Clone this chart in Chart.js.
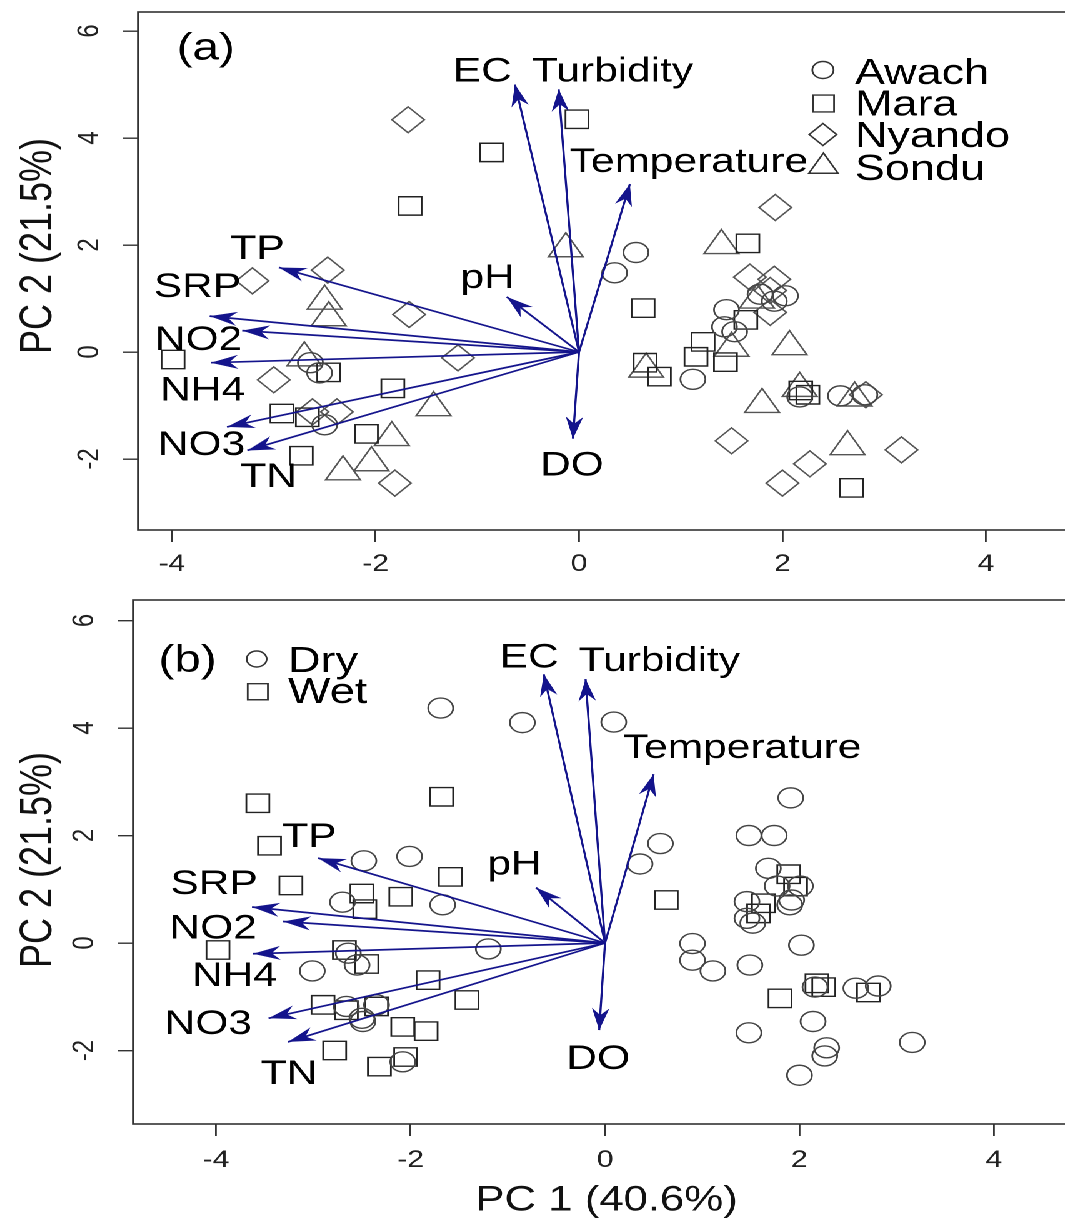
<!DOCTYPE html>
<html lang="en">
<head>
<meta charset="utf-8">
<title>PCA biplot</title>
<script src="https://cdn.jsdelivr.net/npm/chart.js@4.4.1/dist/chart.umd.min.js"></script>
<style>
  html, body { margin: 0; padding: 0; background: #fff; width: 1065px; height: 1220px; overflow: hidden; }
  /* the original figure is stretched sideways, so draw narrow and stretch */
  #esticado { position: absolute; left: 0; top: 0; width: 864px; transform: scaleX(1.25); transform-origin: 0 0; }
  canvas { display: block; }
</style>
</head>
<body>
<div id="esticado">
  <canvas id="graficoA" width="864" height="585"></canvas>
  <canvas id="graficoB" width="864" height="635"></canvas>
</div>
<script>
const fonte = '"Liberation Sans", Arial, sans-serif';
const azul = '#14148c';

// loadings (arrows), same in both panels
const variaveis = ['EC', 'Turbidity', 'Temperature', 'TP', 'pH', 'SRP', 'NO2', 'NH4', 'NO3', 'TN', 'DO'];
const cargaPC1 = [-0.63, -0.20, 0.50, -2.95, -0.71, -3.63, -3.31, -3.62, -3.46, -3.26, -0.06];
const cargaPC2 = [5.00, 4.91, 3.14, 1.58, 1.03, 0.67, 0.40, -0.20, -1.40, -1.84, -1.62];

const ticksX = [-4, -2, 0, 2, 4];
const ticksY = [-2, 0, 2, 4, 6];

// panel (a): scores by site
const awachPC1 = [-2.64, -2.55, -2.50, 0.56, 0.35, 1.45, 1.43, 1.53, 1.12, 2.17, 2.57, 2.81, 1.78, 2.03, 1.92];
const awachPC2 = [-0.20, -0.39, -1.36, 1.86, 1.48, 0.79, 0.47, 0.38, -0.51, -0.84, -0.82, -0.80, 1.08, 1.05, 0.95];
const maraPC1 = [-0.86, -0.02, -1.66, 1.66, 0.63, 1.64, 1.22, 1.15, 1.44, 0.65, 0.79, 2.18, 2.25, 2.68, -3.99, -2.46, -1.83, -2.92, -2.67, -2.09, -2.73];
const maraPC2 = [3.73, 4.35, 2.73, 2.03, 0.82, 0.60, 0.19, -0.09, -0.19, -0.20, -0.46, -0.72, -0.80, -2.54, -0.14, -0.38, -0.68, -1.15, -1.22, -1.53, -1.94];
const nyandoPC1 = [-1.68, -2.47, -3.21, -1.67, -1.19, -3.00, -2.62, -2.38, -1.81, 1.93, 1.68, 1.92, 1.88, 1.88, 2.82, 1.50, 3.17, 2.27, 2.00];
const nyandoPC2 = [4.34, 1.53, 1.33, 0.70, -0.11, -0.52, -1.12, -1.12, -2.45, 2.70, 1.40, 1.36, 1.15, 0.74, -0.80, -1.66, -1.83, -2.09, -2.45];
const sonduPC1 = [-0.13, -2.50, -2.46, -2.70, -1.43, -1.84, -2.04, -2.32, 1.40, 1.50, 2.07, 0.66, 1.80, 2.17, 2.71, 2.64, 1.75];
const sonduPC2 = [1.93, 0.95, 0.64, -0.11, -1.04, -1.60, -2.07, -2.24, 1.99, 0.07, 0.10, -0.32, -0.98, -0.68, -0.86, -1.77, 0.97];

// panel (b): scores by season
const secaPC1 = [-1.69, -0.85, 0.09, -2.48, -2.01, -2.70, -1.67, -2.64, -2.55, -3.01, -1.20, -2.66, -2.35, -2.50, -2.49, -2.08,
  1.91, 1.48, 1.74, 0.57, 0.36, 1.68, 1.77, 2.01, 1.92, 1.46, 1.90, 1.46, 1.52, 0.90, 0.90, 1.11, 1.49, 2.02, 2.16, 2.58, 2.81,
  2.14, 1.48, 3.16, 2.28, 2.26, 2.00];
const secaPC2 = [4.37, 4.10, 4.11, 1.53, 1.61, 0.76, 0.71, -0.19, -0.41, -0.52, -0.11, -1.18, -1.15, -1.40, -1.46, -2.21,
  2.70, 2.00, 2.00, 1.85, 1.47, 1.39, 1.06, 1.06, 0.80, 0.77, 0.71, 0.46, 0.37, -0.01, -0.32, -0.52, -0.41, -0.04, -0.82, -0.84, -0.80,
  -1.46, -1.67, -1.85, -1.95, -2.10, -2.46];
const chuvaPC1 = [-3.57, -1.68, -3.45, -1.59, -3.23, -2.50, -2.10, -2.47, -3.98, -2.68, -2.45, -1.82, -1.42, -2.90, -2.66, -2.35,
  -2.08, -1.84, -2.78, -2.05, -2.32, 0.63, 1.89, 1.96, 1.63, 1.58, 1.80, 2.18, 2.25, 2.71];
const chuvaPC2 = [2.60, 2.72, 1.81, 1.23, 1.07, 0.92, 0.86, 0.63, -0.13, -0.13, -0.39, -0.69, -1.06, -1.15, -1.25, -1.18,
  -1.56, -1.64, -2.00, -2.12, -2.30, 0.80, 1.28, 1.05, 0.74, 0.55, -1.03, -0.75, -0.82, -0.92];

// where the variable names sit (data units), per panel
const rotuloAx = [-0.95, 0.33, 1.08, -3.16, -0.90, -3.75, -3.74, -3.70, -3.71, -3.05, -0.07];
const rotuloAy = [5.23, 5.23, 3.54, 1.91, 1.37, 1.20, 0.21, -0.73, -1.75, -2.35, -2.13];
const rotuloBx = [-0.78, 0.56, 1.41, -3.04, -0.93, -4.02, -4.03, -3.81, -4.08, -3.25, -0.07];
const rotuloBy = [5.30, 5.23, 3.62, 1.96, 1.45, 1.09, 0.26, -0.63, -1.52, -2.45, -2.17];

Chart.defaults.font.family = fonte;

function pontos(xs, ys) {
    return xs.map((x, i) => ({ x: x, y: ys[i] }));
}

function serie(rotulo, xs, ys, estilo, raio, cor) {
    return {
        label: rotulo,
        data: pontos(xs, ys),
        pointStyle: estilo,
        pointRadius: raio,
        pointHoverRadius: raio,
        borderColor: cor,
        backgroundColor: 'rgba(0,0,0,0)',
        borderWidth: 1.4,
        showLine: false
    };
}

function setas() {
    return variaveis.map((v, i) => ({
        label: v,
        data: [{ x: 0, y: 0 }, { x: cargaPC1[i], y: cargaPC2[i] }],
        showLine: true,
        borderColor: azul,
        borderWidth: 1.7,
        pointRadius: 0,
        pointHoverRadius: 0
    }));
}

function marcador(ctx, estilo, raio, x, y, cor) {
    ctx.save();
    ctx.strokeStyle = cor;
    ctx.fillStyle = 'rgba(0,0,0,0)';
    ctx.lineWidth = 1.4;
    Chart.helpers.drawPoint(ctx, { pointStyle: estilo, radius: raio, rotation: 0, borderWidth: 1.4 }, x, y);
    ctx.restore();
}

// no extra room around the plot box: keep the box where the reference has it
function semFolga(s) {
    s.paddingLeft = 0; s.paddingRight = 0; s.paddingTop = 0; s.paddingBottom = 0;
}

const biplot = {
    id: 'biplot',
    afterDatasetsDraw(chart, args, op) {
        const ctx = chart.ctx, sx = chart.scales.x, sy = chart.scales.y;
        const ox = sx.getPixelForValue(0), oy = sy.getPixelForValue(0);
        ctx.save();
        // arrow heads
        ctx.fillStyle = azul;
        variaveis.forEach((v, i) => {
            const tx = sx.getPixelForValue(cargaPC1[i]), ty = sy.getPixelForValue(cargaPC2[i]);
            const len = Math.hypot(tx - ox, ty - oy);
            const ux = (tx - ox) / len, uy = (ty - oy) / len;
            const L = 22, W = 7, N = 15;
            ctx.beginPath();
            ctx.moveTo(tx, ty);
            ctx.lineTo(tx - ux * L - uy * W, ty - uy * L + ux * W);
            ctx.lineTo(tx - ux * N, ty - uy * N);
            ctx.lineTo(tx - ux * L + uy * W, ty - uy * L - ux * W);
            ctx.closePath();
            ctx.fill();
        });
        // variable names
        ctx.fillStyle = '#000';
        ctx.font = '34px ' + fonte;
        ctx.textAlign = 'center';
        ctx.textBaseline = 'middle';
        variaveis.forEach((v, i) => {
            ctx.fillText(v, sx.getPixelForValue(op.rotX[i]), sy.getPixelForValue(op.rotY[i]));
        });
        ctx.restore();
    },
    afterDraw(chart, args, op) {
        const ctx = chart.ctx, a = chart.chartArea, sy = chart.scales.y;
        ctx.save();
        // plot box
        ctx.strokeStyle = '#333';
        ctx.lineWidth = 1.6;
        ctx.strokeRect(a.left, a.top, a.right - a.left, a.bottom - a.top);
        // rotated y tick labels
        ctx.fillStyle = '#222';
        ctx.font = '24px ' + fonte;
        ctx.textAlign = 'center';
        ctx.textBaseline = 'middle';
        ticksY.forEach(v => {
            ctx.save();
            ctx.translate(a.left - 38.5, sy.getPixelForValue(v));
            ctx.rotate(-Math.PI / 2);
            ctx.fillText(String(v), 0, 0);
            ctx.restore();
        });
        // y title
        ctx.fillStyle = '#111';
        ctx.font = '36px ' + fonte;
        ctx.save();
        ctx.translate(31, op.tituloY);
        ctx.rotate(-Math.PI / 2);
        ctx.fillText('PC 2 (21.5%)', 0, 0);
        ctx.restore();
        // x title (bottom panel only)
        if (op.tituloX) {
            ctx.font = '35px ' + fonte;
            ctx.fillText(op.tituloX, (a.left + a.right) / 2, op.tituloXy);
        }
        // panel tag
        ctx.fillStyle = '#000';
        ctx.font = '38px ' + fonte;
        ctx.fillText(op.painel.texto, op.painel.x, op.painel.y);
        // legend
        ctx.textAlign = 'left';
        ctx.font = op.legendaFonte + 'px ' + fonte;
        op.legenda.forEach(item => {
            marcador(ctx, item.estilo, item.raio, item.mx, item.my, '#333');
            ctx.fillStyle = '#000';
            ctx.fillText(item.texto, item.tx, item.ty);
        });
        ctx.restore();
    }
};

function opcoes(lim, extras) {
    return {
        responsive: false,
        animation: false,
        devicePixelRatio: 2,
        events: [],
        layout: { autoPadding: false, padding: { top: lim.topo, left: 0, right: 0, bottom: 0 } },
        plugins: {
            legend: { display: false },
            tooltip: { enabled: false },
            biplot: extras
        },
        scales: {
            x: {
                type: 'linear',
                min: lim.xmin,
                max: lim.xmax,
                afterBuildTicks: s => { s.ticks = ticksX.map(v => ({ value: v })); },
                afterFit: s => { s.height = lim.alturaX; semFolga(s); },
                border: { display: false },
                grid: { drawOnChartArea: false, drawTicks: true, tickLength: 12, color: '#333', lineWidth: 1.4 },
                ticks: { color: '#222', font: { size: 24 }, padding: lim.padX, maxRotation: 0, callback: v => String(v) }
            },
            y: {
                type: 'linear',
                min: lim.ymin,
                max: lim.ymax,
                afterBuildTicks: s => { s.ticks = ticksY.map(v => ({ value: v })); },
                afterFit: s => { s.width = lim.larguraY; semFolga(s); },
                border: { display: false },
                grid: { drawOnChartArea: false, drawTicks: true, tickLength: 12, color: '#333', lineWidth: 1.4 },
                ticks: { display: false }
            }
        }
    };
}

const graficoA = new Chart(document.getElementById('graficoA'), {
    type: 'scatter',
    data: {
        datasets: setas().concat([
            serie('Awach', awachPC1, awachPC2, 'circle', 10, '#444'),
            serie('Mara', maraPC1, maraPC2, 'rect', 13, '#222'),
            serie('Nyando', nyandoPC1, nyandoPC2, 'rectRot', 13, '#555'),
            serie('Sondu', sonduPC1, sonduPC2, 'triangle', 16, '#555')
        ])
    },
    options: opcoes(
        { xmin: -4.334, xmax: 4.924, ymin: -3.327, ymax: 6.355, topo: 12, alturaX: 55, larguraY: 110.4, padX: 8 },
        {
            rotX: rotuloAx, rotY: rotuloAy,
            tituloY: 246,
            painel: { texto: '(a)', x: 164.6, y: 49 },
            legendaFonte: 36,
            legenda: [
                { texto: 'Awach', estilo: 'circle', raio: 8.5, mx: 658.4, my: 70, tx: 684, ty: 74 },
                { texto: 'Mara', estilo: 'rect', raio: 12, mx: 658.8, my: 103.5, tx: 684, ty: 105.5 },
                { texto: 'Nyando', estilo: 'rectRot', raio: 11, mx: 658.4, my: 134.5, tx: 684, ty: 137 },
                { texto: 'Sondu', estilo: 'triangle', raio: 13.5, mx: 658.8, my: 166.5, tx: 684, ty: 170 }
            ]
        }
    ),
    plugins: [biplot]
});

const graficoB = new Chart(document.getElementById('graficoB'), {
    type: 'scatter',
    data: {
        datasets: setas().concat([
            serie('Dry', secaPC1, secaPC2, 'circle', 10, '#444'),
            serie('Wet', chuvaPC1, chuvaPC2, 'rect', 13, '#222')
        ])
    },
    options: opcoes(
        { xmin: -4.853, xmax: 4.884, ymin: -3.367, ymax: 6.381, topo: 15, alturaX: 96, larguraY: 106.4, padX: 10 },
        {
            rotX: rotuloBx, rotY: rotuloBy,
            tituloY: 275,
            tituloX: 'PC 1 (40.6%)', tituloXy: 616,
            painel: { texto: '(b)', x: 150, y: 76 },
            legendaFonte: 36,
            legenda: [
                { texto: 'Dry', estilo: 'circle', raio: 8, mx: 205.3, my: 74, tx: 230.4, ty: 77 },
                { texto: 'Wet', estilo: 'rect', raio: 11.4, mx: 206.2, my: 106.7, tx: 230.4, ty: 108 }
            ]
        }
    ),
    plugins: [biplot]
});
</script>
</body>
</html>
